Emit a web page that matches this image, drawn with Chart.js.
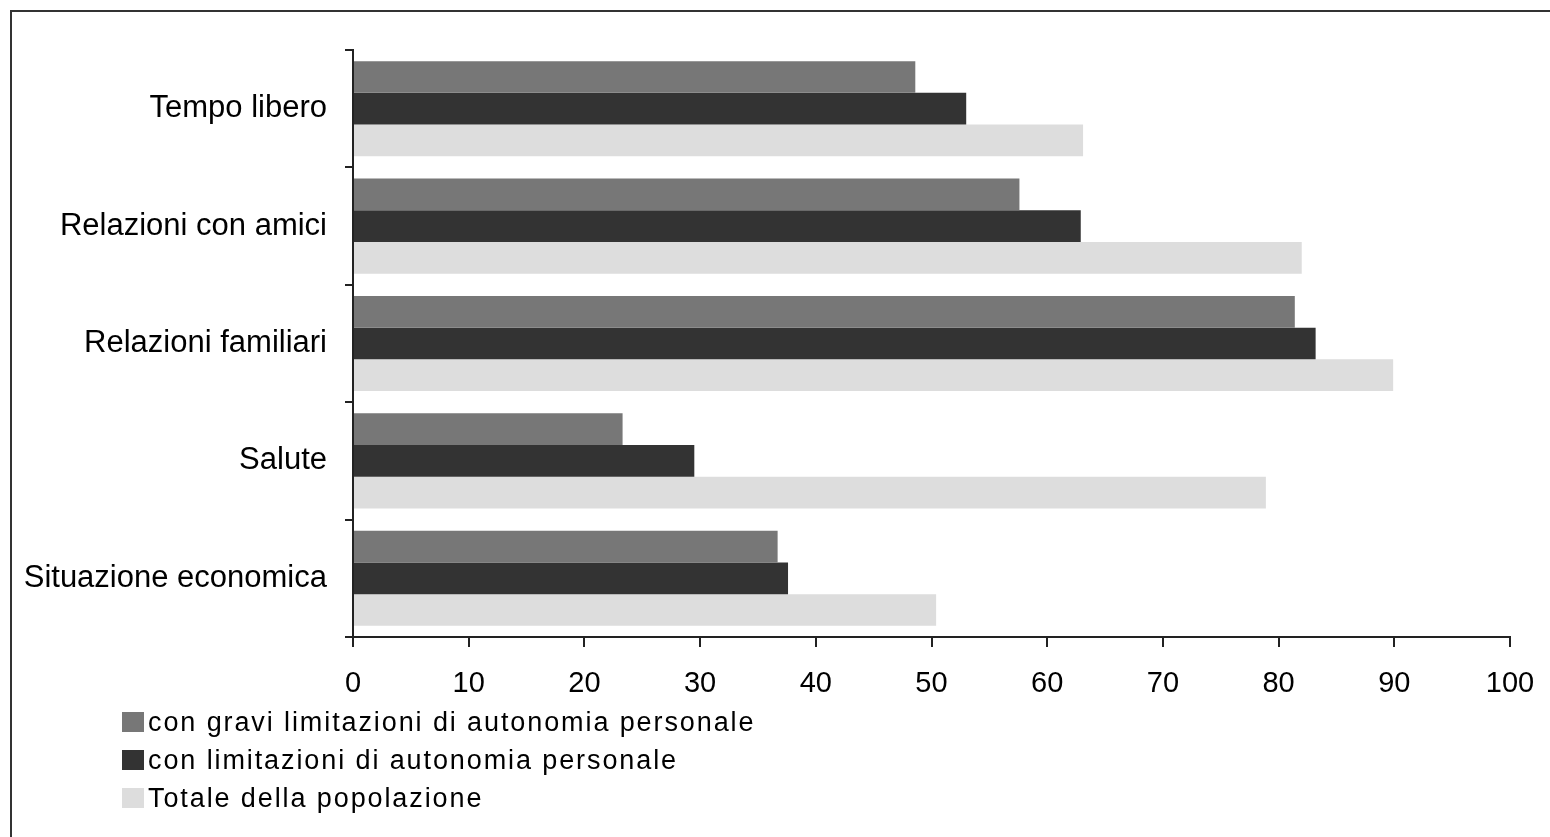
<!DOCTYPE html>
<html>
<head>
<meta charset="utf-8">
<script src="https://cdn.jsdelivr.net/npm/chart.js@4"></script>
<style>
    html, body { margin: 0; padding: 0; background: #fff; overflow: hidden; }
    #frame {
        position: absolute; left: 10px; top: 10px; width: 1600px; height: 900px;
        border-top: 2px solid #333; border-left: 2px solid #333;
    }
    #chart-container { position: absolute; left: 0; top: 0; width: 1550px; height: 837px; }
    #legend {
        position: absolute; left: 122px; top: 703px;
        font-family: "Liberation Sans", Arial, sans-serif; font-size: 27px; letter-spacing: 1.9px; color: #000;
    }
    .legend-row { display: flex; align-items: center; height: 38px; }
    .legend-box { width: 22px; height: 20px; margin-right: 4px; }
</style>
</head>
<body>
<div id="frame"></div>
<div id="chart-container"><canvas id="chart" width="1550" height="837"></canvas></div>
<div id="legend"></div>
<script>
// data
const categories = ['Tempo libero', 'Relazioni con amici', 'Relazioni familiari', 'Salute', 'Situazione economica'];
const seriesLabels = [
    'con gravi limitazioni di autonomia personale',
    'con limitazioni di autonomia personale',
    'Totale della popolazione'
];
const graviValues = [48.6, 57.6, 81.4, 23.3, 36.7];
const limitValues = [53.0, 62.9, 83.2, 29.5, 37.6];
const totaleValues = [63.1, 82.0, 89.9, 78.9, 50.4];
const xTickValues = [0, 10, 20, 30, 40, 50, 60, 70, 80, 90, 100];
const seriesColors = ['#777777', '#333333', '#dddddd'];

const fontFamily = '"Liberation Sans", Arial, sans-serif';

const ctx = document.getElementById('chart').getContext('2d');
const chart = new Chart(ctx, {
    type: 'bar',
    data: {
        labels: categories,
        datasets: [graviValues, limitValues, totaleValues].map((values, i) => ({
            label: seriesLabels[i],
            data: values,
            backgroundColor: seriesColors[i],
            borderWidth: 0,
            categoryPercentage: 0.81,
            barPercentage: 1.0
        }))
    },
    options: {
        indexAxis: 'y',
        responsive: false,
        animation: false,
        layout: { padding: { top: 50, right: 40, left: 0, bottom: 0 } },
        plugins: {
            legend: { display: false },
            tooltip: { enabled: false }
        },
        scales: {
            x: {
                type: 'linear',
                min: 0,
                max: 100,
                afterFit(scale) {
                    scale.height = 200;
                    scale.paddingLeft = 0;
                    scale.paddingRight = 0;
                },
                afterBuildTicks(scale) { scale.ticks = xTickValues.map(v => ({ value: v })); },
                ticks: {
                    color: '#000',
                    padding: 20,
                    font: { family: fontFamily, size: 29 },
                    maxRotation: 0
                },
                grid: {
                    drawOnChartArea: false,
                    drawTicks: true,
                    tickLength: 10,
                    color: '#222',
                    lineWidth: 2
                },
                border: { color: '#222', width: 2 }
            },
            y: {
                afterFit(scale) {
                    scale.width = 353;
                    scale.paddingTop = 0;
                    scale.paddingBottom = 0;
                },
                ticks: {
                    color: '#000',
                    padding: 18,
                    font: { family: fontFamily, size: 31 }
                },
                grid: {
                    offset: true,
                    drawOnChartArea: false,
                    drawTicks: true,
                    tickLength: 8,
                    color: '#222',
                    lineWidth: 2
                },
                border: { color: '#222', width: 2 }
            }
        }
    }
});

// legend, one row per series
const legendDiv = document.getElementById('legend');
seriesLabels.forEach((label, i) => {
    const row = document.createElement('div');
    row.className = 'legend-row';
    const box = document.createElement('span');
    box.className = 'legend-box';
    box.style.background = seriesColors[i];
    const text = document.createElement('span');
    text.textContent = label;
    row.appendChild(box);
    row.appendChild(text);
    legendDiv.appendChild(row);
});
</script>
</body>
</html>
